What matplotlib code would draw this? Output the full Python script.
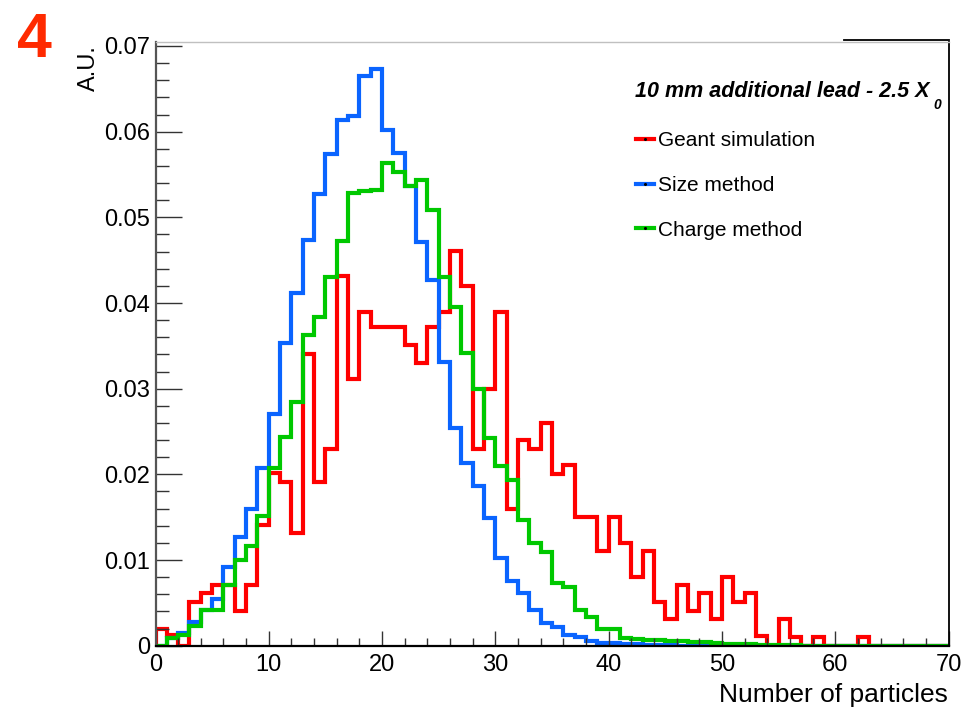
import numpy as np
import matplotlib
matplotlib.use('Agg')
import matplotlib.pyplot as plt
from matplotlib.ticker import MultipleLocator

plt.rcParams['font.family'] = ['Liberation Sans', 'DejaVu Sans']

# Bin edges: 70 bins of width 1 particle
edges = np.arange(0, 71, 1)

# Normalised distributions (A.U.) per bin
geant = [0.0020, 0.0012, 0.0000, 0.0051, 0.0061, 0.0071, 0.0071, 0.0040, 0.0071, 0.0141,
         0.0201, 0.0191, 0.0131, 0.0341, 0.0191, 0.0230, 0.0431, 0.0311, 0.0390, 0.0372,
         0.0372, 0.0372, 0.0351, 0.0330, 0.0372, 0.0390, 0.0461, 0.0420, 0.0230, 0.0300,
         0.0390, 0.0160, 0.0240, 0.0230, 0.0260, 0.0200, 0.0211, 0.0150, 0.0150, 0.0110,
         0.0150, 0.0120, 0.0080, 0.0110, 0.0051, 0.0031, 0.0071, 0.0041, 0.0061, 0.0031,
         0.0080, 0.0051, 0.0061, 0.0011, 0.0000, 0.0031, 0.0010, 0.0000, 0.0010, 0.0000,
         0.0000, 0.0000, 0.0010, 0.0000, 0.0000, 0.0000, 0.0000, 0.0000, 0.0000, 0.0000]

size_method = [0.0000, 0.0009, 0.0015, 0.0028, 0.0042, 0.0055, 0.0092, 0.0127, 0.0160, 0.0207,
               0.0271, 0.0353, 0.0412, 0.0474, 0.0527, 0.0574, 0.0614, 0.0618, 0.0665, 0.0673,
               0.0602, 0.0575, 0.0536, 0.0471, 0.0427, 0.0331, 0.0254, 0.0213, 0.0186, 0.0149,
               0.0102, 0.0075, 0.0061, 0.0042, 0.0026, 0.0022, 0.0013, 0.0010, 0.0006, 0.0003,
               0.0003, 0.0002, 0.0002, 0.0001, 0.0001, 0.0001, 0.0000, 0.0000, 0.0000, 0.0000,
               0.0000, 0.0000, 0.0000, 0.0000, 0.0000, 0.0000, 0.0000, 0.0000, 0.0000, 0.0000,
               0.0000, 0.0000, 0.0000, 0.0000, 0.0000, 0.0000, 0.0000, 0.0000, 0.0000, 0.0000]

charge_method = [0.0000, 0.0009, 0.0013, 0.0023, 0.0042, 0.0042, 0.0071, 0.0100, 0.0116, 0.0151,
                 0.0207, 0.0244, 0.0285, 0.0363, 0.0384, 0.0430, 0.0472, 0.0528, 0.0531, 0.0532,
                 0.0563, 0.0553, 0.0537, 0.0544, 0.0508, 0.0430, 0.0395, 0.0342, 0.0300, 0.0242,
                 0.0210, 0.0193, 0.0147, 0.0120, 0.0109, 0.0073, 0.0069, 0.0042, 0.0033, 0.0020,
                 0.0020, 0.0009, 0.0008, 0.0007, 0.0007, 0.0006, 0.0005, 0.0004, 0.0004, 0.0003,
                 0.0002, 0.0002, 0.0002, 0.0001, 0.0001, 0.0001, 0.0001, 0.0000, 0.0000, 0.0000,
                 0.0000, 0.0000, 0.0000, 0.0000, 0.0000, 0.0000, 0.0000, 0.0000, 0.0000, 0.0000]

labels = ['Geant simulation', 'Size method', 'Charge method']
colors = ['#ff0000', '#0a64ff', '#00c800']

W, H = 980, 707
fig = plt.figure(figsize=(W / 100, H / 100), dpi=100)
ax = fig.add_axes([155.5 / W, 1 - 645.7 / H, (948.5 - 155.5) / W, (645.7 - 41.7) / H])

for vals, c in zip([geant, size_method, charge_method], colors):
    ax.stairs(vals, edges, color=c, linewidth=3, baseline=0)

ax.set_xlim(0, 70)
ax.set_ylim(0, 0.0705)

ax.xaxis.set_major_locator(MultipleLocator(10))
ax.xaxis.set_minor_locator(MultipleLocator(2))
ax.yaxis.set_major_locator(MultipleLocator(0.01))
ax.yaxis.set_minor_locator(MultipleLocator(0.002))
ax.set_yticks(np.arange(0, 0.0701, 0.01))
ax.set_yticklabels(['0', '0.01', '0.02', '0.03', '0.04', '0.05', '0.06', '0.07'])

ax.tick_params(axis='x', which='major', direction='in', length=11, width=1,
               color='#333333', labelsize=17, pad=6)
ax.tick_params(axis='x', which='minor', direction='in', length=6, width=1, color='#333333')
ax.tick_params(axis='y', which='major', direction='in', length=18.5, width=1,
               color='#333333', labelsize=17, pad=4)
ax.tick_params(axis='y', which='minor', direction='in', length=9, width=1, color='#333333')

ax.spines['left'].set_color('#555555')
ax.spines['left'].set_linewidth(1.6)
ax.spines['bottom'].set_color('black')
ax.spines['bottom'].set_linewidth(1.6)
ax.spines['right'].set_color('black')
ax.spines['right'].set_linewidth(1.3)
ax.spines['top'].set_color('#c0c0c0')
ax.spines['top'].set_linewidth(1)
# darker segment of the frame along the top right
ax.plot([(844 - 155.5) / (948.5 - 155.5), 1], [1.002, 1.002], transform=ax.transAxes,
        color='black', linewidth=1.3, clip_on=False)

# axis titles
fig.text(89 / W, 1 - 45 / H, 'A.U.', rotation=90, ha='center', va='top', fontsize=17)
fig.text(948 / W, 1 - 701.7 / H, 'Number of particles', ha='right', va='baseline', fontsize=19)

# panel number
fig.text(17 / W, 1 - 57 / H, '4', fontsize=45, fontweight='bold', color='#ff2a00', va='baseline')

# legend
title = fig.text(635 / W, 1 - 96.7 / H, '10 mm additional lead - 2.5 X', fontsize=15.5,
                 fontweight='bold', fontstyle='italic', va='baseline')
ax.annotate('0', xy=(1, 0), xycoords=title, xytext=(3, -5), textcoords='offset points',
            fontsize=10, fontweight='bold', fontstyle='italic', va='baseline', ha='left')

for i, (lab, c) in enumerate(zip(labels, colors)):
    yc = 139 + 44.7 * i
    fig.add_artist(plt.Line2D([636 / W, 654 / W], [1 - yc / H, 1 - yc / H],
                              color=c, linewidth=3))
    fig.add_artist(plt.Line2D([645 / W], [1 - yc / H], marker='o', markersize=1.2,
                              color='black', linestyle='none'))
    fig.text(658 / W, 1 - (yc + 7.5) / H, lab, fontsize=15, va='baseline')

fig.savefig('out.png', dpi=100)
